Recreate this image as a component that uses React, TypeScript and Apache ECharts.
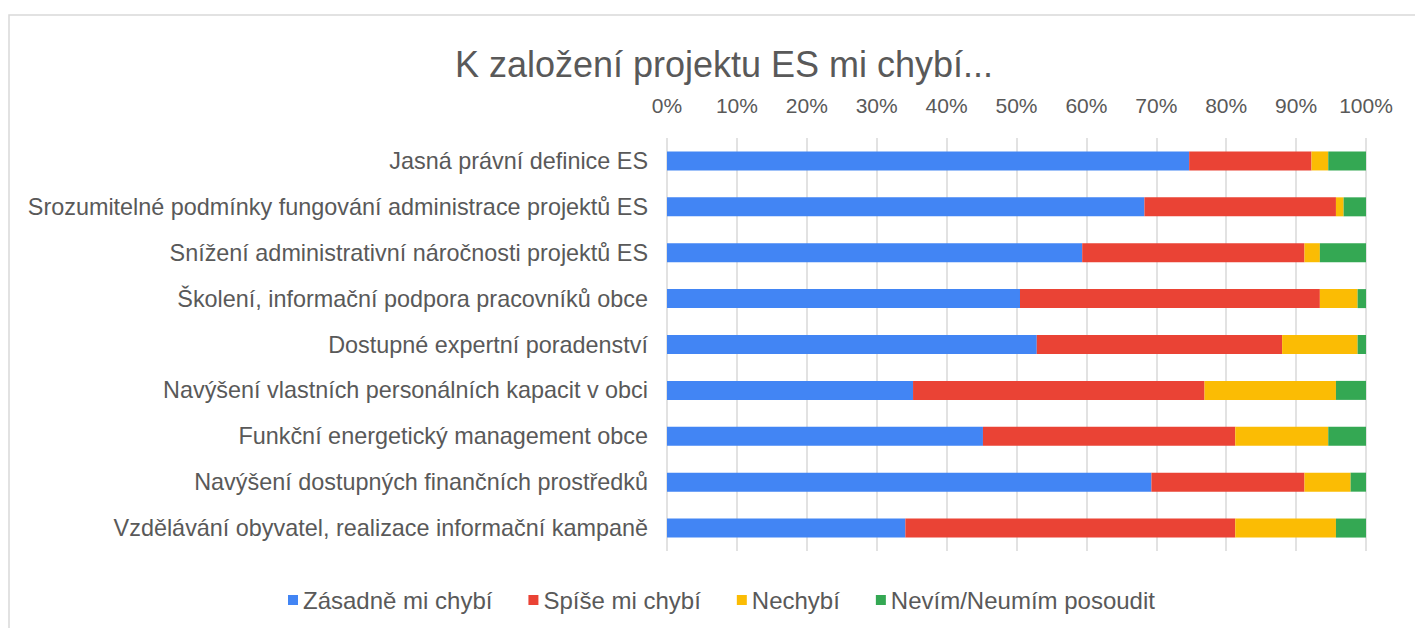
import React, { useEffect, useRef } from "react";
import * as echarts from "echarts";

const categories = [
  "Jasná právní definice ES",
  "Srozumitelné podmínky fungování administrace projektů ES",
  "Snížení administrativní náročnosti projektů ES",
  "Školení, informační podpora pracovníků obce",
  "Dostupné expertní poradenství",
  "Navýšení vlastních personálních kapacit v obci",
  "Funkční energetický management obce",
  "Navýšení dostupných finančních prostředků",
  "Vzdělávání obyvatel, realizace informační kampaně",
];

const zasadne = [74.7, 68.3, 59.4, 50.5, 52.9, 35.2, 45.2, 69.3, 34.1];
const spise = [17.5, 27.4, 31.8, 42.9, 35.1, 41.7, 36.1, 21.9, 47.2];
const nechybi = [2.4, 1.1, 2.2, 5.4, 10.8, 18.8, 13.3, 6.6, 14.4];
const nevim = [5.4, 3.2, 6.6, 1.2, 1.2, 4.3, 5.4, 2.2, 4.3];

const seriesNames = ["Zásadně mi chybí", "Spíše mi chybí", "Nechybí", "Nevím/Neumím posoudit"];
const colors = ["#4285F4", "#EA4335", "#FBBC04", "#34A853"];
const seriesData = [zasadne, spise, nechybi, nevim];

const FONT = "'Liberation Sans', Arial, sans-serif";
const TXT = "#595959";

export default function App() {
  const ref = useRef<HTMLDivElement>(null);
  useEffect(() => {
    if (!ref.current) return;
    const chart = echarts.init(ref.current, null, { renderer: "svg" });
    chart.setOption({
      animation: false,
      textStyle: { fontFamily: FONT },
      title: {
        text: "K založení projektu ES mi chybí...",
        left: 719,
        top: 41,
        textAlign: "center",
        textStyle: { fontFamily: FONT, fontSize: 36, fontWeight: "normal", color: TXT },
      },
      graphic: [
        {
          type: "rect",
          shape: { x: 9, y: 15, width: 1420, height: 620 },
          style: { fill: "none", stroke: "#d9d9d9", lineWidth: 1.5 },
          silent: true,
        },
      ],
      legend: {
        data: seriesNames,
        left: 283,
        top: 583,
        itemWidth: 10,
        itemHeight: 10,
        itemGap: 36,
        icon: "rect",
        textStyle: { fontFamily: FONT, fontSize: 24, color: TXT },
      },
      grid: { left: 667, right: 1415 - 1366, top: 138, height: 413 },
      xAxis: {
        type: "value",
        position: "top",
        min: 0,
        max: 100,
        interval: 10,
        axisLine: { show: false },
        axisTick: { show: false },
        axisLabel: {
          formatter: "{value}%",
          fontFamily: FONT,
          fontSize: 21,
          color: TXT,
          margin: 22,
        },
        splitLine: { lineStyle: { color: "#d9d9d9", width: 1.5 } },
      },
      yAxis: {
        type: "category",
        data: categories,
        inverse: true,
        axisLine: { show: false },
        axisTick: { show: false },
        axisLabel: { fontFamily: FONT, fontSize: 23.4, color: TXT, margin: 19 },
      },
      series: seriesNames.map((name, i) => ({
        name,
        type: "bar",
        stack: "total",
        barWidth: 19,
        data: seriesData[i],
        itemStyle: { color: colors[i] },
      })),
    });
    return () => chart.dispose();
  }, []);
  return <div ref={ref} style={{ width: 1415, height: 628, position: "absolute", left: 0, top: 0 }} />;
}
